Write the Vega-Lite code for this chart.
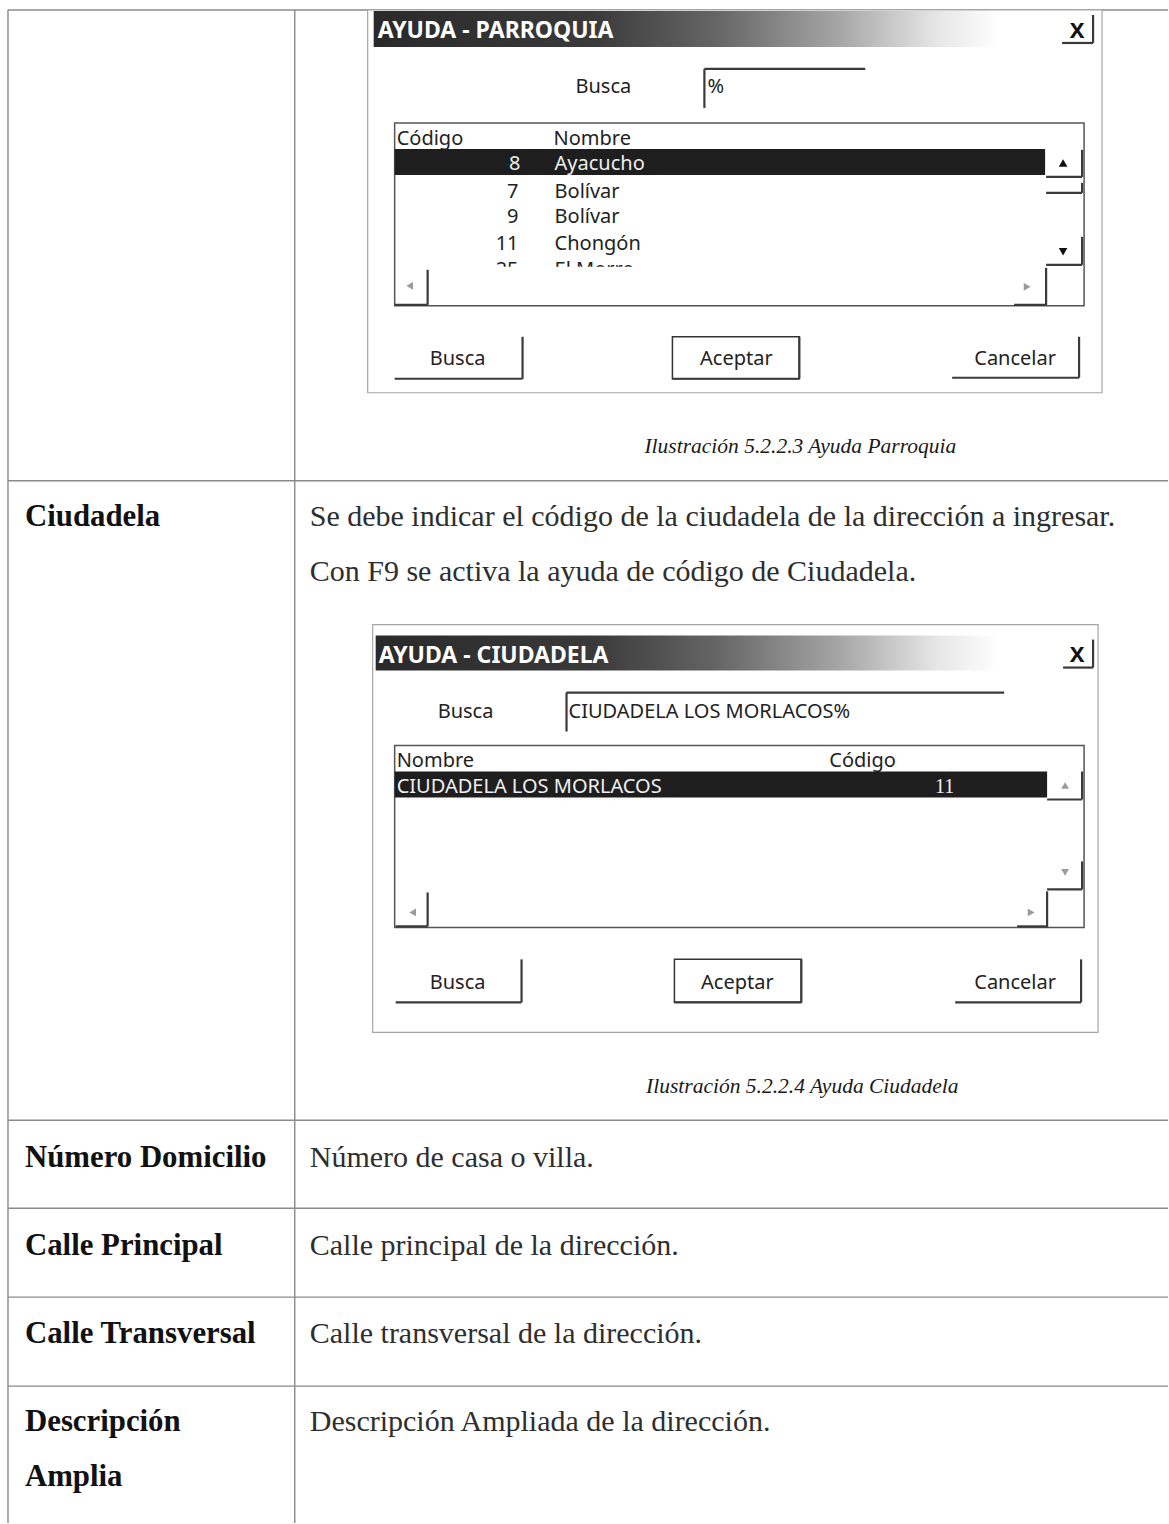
{
  "$schema": "https://vega.github.io/schema/vega-lite/v6.json",
  "width": 1169,
  "height": 1524,
  "autosize": {"type": "fit", "contains": "padding"},
  "padding": 0,
  "background": "white",
  "config": {"view": {"stroke": null}},
  "datasets": {
    "tableLines": [
      {"x1": 8, "x2": 1169, "y1": 10, "y2": 10},
      {"x1": 8, "x2": 8, "y1": 10, "y2": 1524},
      {"x1": 295, "x2": 295, "y1": 10, "y2": 1524},
      {"x1": 8, "x2": 1169, "y1": 481, "y2": 481},
      {"x1": 8, "x2": 1169, "y1": 1121, "y2": 1121},
      {"x1": 8, "x2": 1169, "y1": 1209, "y2": 1209},
      {"x1": 8, "x2": 1169, "y1": 1298, "y2": 1298},
      {"x1": 8, "x2": 1169, "y1": 1387, "y2": 1387}
    ],
    "dialogs": [
      {"x1": 368, "x2": 1103, "y1": 10, "y2": 393},
      {"x1": 373, "x2": 1099, "y1": 625, "y2": 1033}
    ],
    "titleBars": [
      {"x1": 374, "x2": 1000, "y1": 11, "y2": 47},
      {"x1": 376, "x2": 1000, "y1": 636, "y2": 671}
    ],
    "listBoxes": [
      {"x1": 395, "x2": 1085, "y1": 123, "y2": 306},
      {"x1": 395, "x2": 1085, "y1": 746, "y2": 928}
    ],
    "selRows": [
      {"x1": 395, "x2": 1046, "y1": 149, "y2": 175},
      {"x1": 395, "x2": 1048, "y1": 772, "y2": 798}
    ],
    "covers": [
      {"x1": 397, "x2": 1046, "y1": 267, "y2": 304}
    ],
    "okButtons": [
      {"x1": 673, "x2": 800, "y1": 337, "y2": 379},
      {"x1": 675, "x2": 802, "y1": 960, "y2": 1003}
    ],
    "shadowLines": [
      {"x1": 705, "x2": 866, "y1": 69, "y2": 69},
      {"x1": 705, "x2": 705, "y1": 69, "y2": 108},
      {"x1": 567, "x2": 1005, "y1": 693, "y2": 693},
      {"x1": 567, "x2": 567, "y1": 693, "y2": 732},
      {"x1": 1094, "x2": 1094, "y1": 15, "y2": 43},
      {"x1": 1063, "x2": 1094, "y1": 43, "y2": 43},
      {"x1": 1094, "x2": 1094, "y1": 640, "y2": 668},
      {"x1": 1064, "x2": 1094, "y1": 668, "y2": 668},
      {"x1": 1083, "x2": 1083, "y1": 150, "y2": 177},
      {"x1": 1047, "x2": 1083, "y1": 177, "y2": 177},
      {"x1": 1083, "x2": 1083, "y1": 183, "y2": 193},
      {"x1": 1047, "x2": 1083, "y1": 193, "y2": 193},
      {"x1": 1083, "x2": 1083, "y1": 237, "y2": 265},
      {"x1": 1047, "x2": 1083, "y1": 265, "y2": 265},
      {"x1": 1047, "x2": 1047, "y1": 268, "y2": 306},
      {"x1": 1015, "x2": 1047, "y1": 305, "y2": 305},
      {"x1": 428, "x2": 428, "y1": 270, "y2": 305},
      {"x1": 395, "x2": 428, "y1": 305, "y2": 305},
      {"x1": 1083, "x2": 1083, "y1": 772, "y2": 800},
      {"x1": 1048, "x2": 1083, "y1": 800, "y2": 800},
      {"x1": 1083, "x2": 1083, "y1": 862, "y2": 890},
      {"x1": 1048, "x2": 1083, "y1": 890, "y2": 890},
      {"x1": 1048, "x2": 1048, "y1": 892, "y2": 928},
      {"x1": 1018, "x2": 1048, "y1": 927, "y2": 927},
      {"x1": 428, "x2": 428, "y1": 893, "y2": 927},
      {"x1": 396, "x2": 428, "y1": 927, "y2": 927},
      {"x1": 523, "x2": 523, "y1": 337, "y2": 379},
      {"x1": 395, "x2": 523, "y1": 379, "y2": 379},
      {"x1": 1080, "x2": 1080, "y1": 337, "y2": 378},
      {"x1": 953, "x2": 1080, "y1": 378, "y2": 378},
      {"x1": 522, "x2": 522, "y1": 960, "y2": 1003},
      {"x1": 396, "x2": 522, "y1": 1003, "y2": 1003},
      {"x1": 1082, "x2": 1082, "y1": 960, "y2": 1003},
      {"x1": 956, "x2": 1082, "y1": 1003, "y2": 1003},
      {"x1": 673, "x2": 800, "y1": 379, "y2": 379},
      {"x1": 800, "x2": 800, "y1": 337, "y2": 379},
      {"x1": 675, "x2": 802, "y1": 1003, "y2": 1003},
      {"x1": 802, "x2": 802, "y1": 960, "y2": 1003}
    ],
    "arrowsDark": [
      {"x": 1064, "y": 163, "dir": "up"},
      {"x": 1064, "y": 252, "dir": "down"}
    ],
    "arrowsLight": [
      {"x": 410, "y": 286, "dir": "left"},
      {"x": 1028, "y": 287, "dir": "right"},
      {"x": 1066, "y": 786, "dir": "up"},
      {"x": 1066, "y": 873, "dir": "down"},
      {"x": 413, "y": 913, "dir": "left"},
      {"x": 1032, "y": 913, "dir": "right"}
    ],
    "uiLeft": [
      {"x": 576, "y": 93, "t": "Busca"},
      {"x": 708, "y": 93, "t": "%"},
      {"x": 397, "y": 145, "t": "Código"},
      {"x": 554, "y": 145, "t": "Nombre"},
      {"x": 555, "y": 198, "t": "Bolívar"},
      {"x": 555, "y": 223, "t": "Bolívar"},
      {"x": 555, "y": 250, "t": "Chongón"},
      {"x": 555, "y": 276, "t": "El Morro"},
      {"x": 438, "y": 718, "t": "Busca"},
      {"x": 569, "y": 718, "t": "CIUDADELA LOS MORLACOS%"},
      {"x": 397, "y": 768, "t": "Nombre"},
      {"x": 830, "y": 768, "t": "Código"}
    ],
    "uiRight": [
      {"x": 519, "y": 198, "t": "7"},
      {"x": 519, "y": 223, "t": "9"},
      {"x": 519, "y": 250, "t": "11"},
      {"x": 519, "y": 276, "t": "25"}
    ],
    "uiCenter": [
      {"x": 458, "y": 365, "t": "Busca"},
      {"x": 737, "y": 365, "t": "Aceptar"},
      {"x": 1016, "y": 365, "t": "Cancelar"},
      {"x": 458, "y": 990, "t": "Busca"},
      {"x": 738, "y": 990, "t": "Aceptar"},
      {"x": 1016, "y": 990, "t": "Cancelar"}
    ],
    "selLeft": [
      {"x": 555, "y": 170, "t": "Ayacucho"},
      {"x": 397, "y": 794, "t": "CIUDADELA LOS MORLACOS"}
    ],
    "selRight": [
      {"x": 521, "y": 170, "t": "8"}
    ],
    "selSerif": [
      {"x": 955, "y": 794, "t": "11"}
    ],
    "titles": [
      {"x": 378, "y": 38, "t": "AYUDA - PARROQUIA"},
      {"x": 379, "y": 663, "t": "AYUDA - CIUDADELA"}
    ],
    "closes": [
      {"x": 1078, "y": 38, "t": "X"},
      {"x": 1078, "y": 662, "t": "X"}
    ],
    "labels": [
      {"x": 25, "y": 526, "t": "Ciudadela"},
      {"x": 25, "y": 1168, "t": "Número Domicilio"},
      {"x": 25, "y": 1256, "t": "Calle Principal"},
      {"x": 25, "y": 1344, "t": "Calle Transversal"},
      {"x": 25, "y": 1432, "t": "Descripción"},
      {"x": 25, "y": 1487, "t": "Amplia"}
    ],
    "body": [
      {"x": 310, "y": 526, "t": "Se debe indicar el código de la ciudadela de la dirección a ingresar."},
      {"x": 310, "y": 581, "t": "Con F9 se activa la ayuda de código de Ciudadela."},
      {"x": 310, "y": 1168, "t": "Número de casa o villa."},
      {"x": 310, "y": 1256, "t": "Calle principal de la dirección."},
      {"x": 310, "y": 1344, "t": "Calle transversal de la dirección."},
      {"x": 310, "y": 1432, "t": "Descripción Ampliada de la dirección."}
    ],
    "captions": [
      {"x": 801, "y": 453, "t": "Ilustración 5.2.2.3  Ayuda Parroquia"},
      {"x": 803, "y": 1094, "t": "Ilustración 5.2.2.4  Ayuda Ciudadela"}
    ]
  },
  "layer": [
    {
      "data": {"name": "tableLines"},
      "mark": {"type": "rule", "color": "#8a8a8a", "strokeWidth": 1.4},
      "encoding": {
        "x": {"field": "x1", "type": "quantitative", "scale": {"domain": [0, 1169], "nice": false, "zero": false}, "axis": null},
        "x2": {"field": "x2"},
        "y": {"field": "y1", "type": "quantitative", "scale": {"domain": [0, 1524], "nice": false, "zero": false, "reverse": true}, "axis": null},
        "y2": {"field": "y2"}
      }
    },
    {
      "data": {"name": "dialogs"},
      "mark": {"type": "rect", "fill": "white", "stroke": "#a5a5a5", "strokeWidth": 1.2},
      "encoding": {
        "x": {"field": "x1", "type": "quantitative", "axis": null},
        "x2": {"field": "x2"},
        "y": {"field": "y1", "type": "quantitative", "axis": null},
        "y2": {"field": "y2"}
      }
    },
    {
      "data": {"name": "titleBars"},
      "mark": {"type": "rect", "fill": {"gradient": "linear", "x1": 0, "x2": 1, "y1": 0, "y2": 0, "stops": [{"offset": 0, "color": "#2a2a2a"}, {"offset": 0.35, "color": "#3a3a3a"}, {"offset": 0.55, "color": "#666666"}, {"offset": 0.75, "color": "#a8a8a8"}, {"offset": 0.9, "color": "#e6e6e6"}, {"offset": 1, "color": "#ffffff"}]}},
      "encoding": {
        "x": {"field": "x1", "type": "quantitative", "axis": null},
        "x2": {"field": "x2"},
        "y": {"field": "y1", "type": "quantitative", "axis": null},
        "y2": {"field": "y2"}
      }
    },
    {
      "data": {"name": "listBoxes"},
      "mark": {"type": "rect", "fill": "white", "stroke": "#555555", "strokeWidth": 1.5},
      "encoding": {
        "x": {"field": "x1", "type": "quantitative", "axis": null},
        "x2": {"field": "x2"},
        "y": {"field": "y1", "type": "quantitative", "axis": null},
        "y2": {"field": "y2"}
      }
    },
    {
      "data": {"name": "selRows"},
      "mark": {"type": "rect", "fill": "#1e1e1e"},
      "encoding": {
        "x": {"field": "x1", "type": "quantitative", "axis": null},
        "x2": {"field": "x2"},
        "y": {"field": "y1", "type": "quantitative", "axis": null},
        "y2": {"field": "y2"}
      }
    },
    {
      "data": {"name": "uiLeft"},
      "mark": {"type": "text", "align": "left", "baseline": "alphabetic", "font": "Noto Sans", "fontSize": 20, "color": "#222222"},
      "encoding": {
        "x": {"field": "x", "type": "quantitative", "axis": null},
        "y": {"field": "y", "type": "quantitative", "axis": null},
        "text": {"field": "t"}
      }
    },
    {
      "data": {"name": "uiRight"},
      "mark": {"type": "text", "align": "right", "baseline": "alphabetic", "font": "Noto Sans", "fontSize": 20, "color": "#222222"},
      "encoding": {
        "x": {"field": "x", "type": "quantitative", "axis": null},
        "y": {"field": "y", "type": "quantitative", "axis": null},
        "text": {"field": "t"}
      }
    },
    {
      "data": {"name": "covers"},
      "mark": {"type": "rect", "fill": "white"},
      "encoding": {
        "x": {"field": "x1", "type": "quantitative", "axis": null},
        "x2": {"field": "x2"},
        "y": {"field": "y1", "type": "quantitative", "axis": null},
        "y2": {"field": "y2"}
      }
    },
    {
      "data": {"name": "okButtons"},
      "mark": {"type": "rect", "fill": "white", "stroke": "#333333", "strokeWidth": 1.5},
      "encoding": {
        "x": {"field": "x1", "type": "quantitative", "axis": null},
        "x2": {"field": "x2"},
        "y": {"field": "y1", "type": "quantitative", "axis": null},
        "y2": {"field": "y2"}
      }
    },
    {
      "data": {"name": "shadowLines"},
      "mark": {"type": "rule", "color": "#3a3a3a", "strokeWidth": 2.2},
      "encoding": {
        "x": {"field": "x1", "type": "quantitative", "axis": null},
        "x2": {"field": "x2"},
        "y": {"field": "y1", "type": "quantitative", "axis": null},
        "y2": {"field": "y2"}
      }
    },
    {
      "data": {"name": "arrowsDark"},
      "mark": {"type": "point", "filled": true, "color": "#111111", "size": 75, "opacity": 1},
      "encoding": {
        "x": {"field": "x", "type": "quantitative", "axis": null},
        "y": {"field": "y", "type": "quantitative", "axis": null},
        "shape": {"field": "dir", "type": "nominal", "legend": null, "scale": {"domain": ["up", "down", "left", "right"], "range": ["triangle-up", "triangle-down", "triangle-left", "triangle-right"]}}
      }
    },
    {
      "data": {"name": "arrowsLight"},
      "mark": {"type": "point", "filled": true, "color": "#9a9a9a", "size": 60, "opacity": 1},
      "encoding": {
        "x": {"field": "x", "type": "quantitative", "axis": null},
        "y": {"field": "y", "type": "quantitative", "axis": null},
        "shape": {"field": "dir", "type": "nominal", "legend": null, "scale": {"domain": ["up", "down", "left", "right"], "range": ["triangle-up", "triangle-down", "triangle-left", "triangle-right"]}}
      }
    },
    {
      "data": {"name": "uiCenter"},
      "mark": {"type": "text", "align": "center", "baseline": "alphabetic", "font": "Noto Sans", "fontSize": 20, "color": "#222222"},
      "encoding": {
        "x": {"field": "x", "type": "quantitative", "axis": null},
        "y": {"field": "y", "type": "quantitative", "axis": null},
        "text": {"field": "t"}
      }
    },
    {
      "data": {"name": "selLeft"},
      "mark": {"type": "text", "align": "left", "baseline": "alphabetic", "font": "Noto Sans", "fontSize": 20, "color": "#f0f0f0"},
      "encoding": {
        "x": {"field": "x", "type": "quantitative", "axis": null},
        "y": {"field": "y", "type": "quantitative", "axis": null},
        "text": {"field": "t"}
      }
    },
    {
      "data": {"name": "selRight"},
      "mark": {"type": "text", "align": "right", "baseline": "alphabetic", "font": "Noto Sans", "fontSize": 20, "color": "#f0f0f0"},
      "encoding": {
        "x": {"field": "x", "type": "quantitative", "axis": null},
        "y": {"field": "y", "type": "quantitative", "axis": null},
        "text": {"field": "t"}
      }
    },
    {
      "data": {"name": "selSerif"},
      "mark": {"type": "text", "align": "right", "baseline": "alphabetic", "font": "Liberation Serif", "fontSize": 20, "color": "#f0f0f0"},
      "encoding": {
        "x": {"field": "x", "type": "quantitative", "axis": null},
        "y": {"field": "y", "type": "quantitative", "axis": null},
        "text": {"field": "t"}
      }
    },
    {
      "data": {"name": "titles"},
      "mark": {"type": "text", "align": "left", "baseline": "alphabetic", "font": "Noto Sans", "fontSize": 23, "fontWeight": "bold", "color": "#ffffff"},
      "encoding": {
        "x": {"field": "x", "type": "quantitative", "axis": null},
        "y": {"field": "y", "type": "quantitative", "axis": null},
        "text": {"field": "t"}
      }
    },
    {
      "data": {"name": "closes"},
      "mark": {"type": "text", "align": "center", "baseline": "alphabetic", "font": "Noto Sans", "fontSize": 22, "fontWeight": "bold", "color": "#111111"},
      "encoding": {
        "x": {"field": "x", "type": "quantitative", "axis": null},
        "y": {"field": "y", "type": "quantitative", "axis": null},
        "text": {"field": "t"}
      }
    },
    {
      "data": {"name": "labels"},
      "mark": {"type": "text", "align": "left", "baseline": "alphabetic", "font": "Liberation Serif", "fontSize": 30.8, "fontWeight": "bold", "color": "#111111"},
      "encoding": {
        "x": {"field": "x", "type": "quantitative", "axis": null},
        "y": {"field": "y", "type": "quantitative", "axis": null},
        "text": {"field": "t"}
      }
    },
    {
      "data": {"name": "body"},
      "mark": {"type": "text", "align": "left", "baseline": "alphabetic", "font": "Liberation Serif", "fontSize": 30, "color": "#2e2e2e"},
      "encoding": {
        "x": {"field": "x", "type": "quantitative", "axis": null},
        "y": {"field": "y", "type": "quantitative", "axis": null},
        "text": {"field": "t"}
      }
    },
    {
      "data": {"name": "captions"},
      "mark": {"type": "text", "align": "center", "baseline": "alphabetic", "font": "Liberation Serif", "fontSize": 21.5, "fontStyle": "italic", "color": "#1a1a1a"},
      "encoding": {
        "x": {"field": "x", "type": "quantitative", "axis": null},
        "y": {"field": "y", "type": "quantitative", "axis": null},
        "text": {"field": "t"}
      }
    }
  ]
}
